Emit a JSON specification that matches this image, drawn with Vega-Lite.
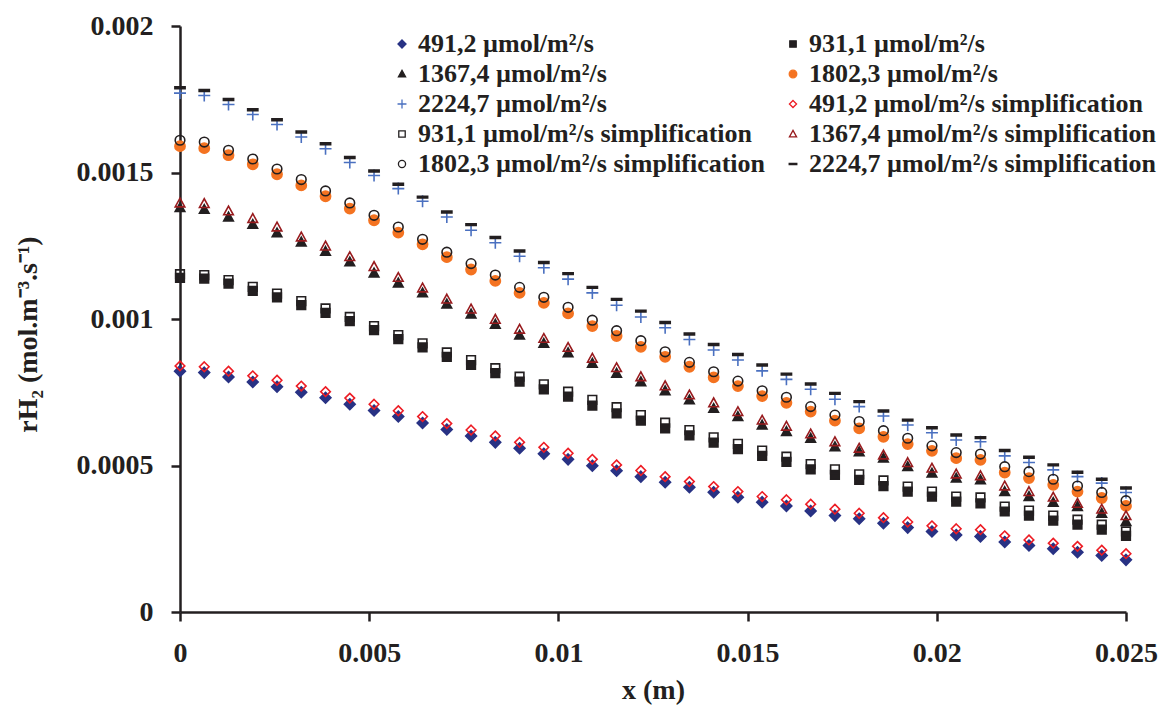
{
  "$schema": "https://vega.github.io/schema/vega-lite/v6.json",
  "width": 946,
  "height": 586,
  "autosize": {"type": "none"},
  "padding": {"left": 180, "top": 26, "right": 40, "bottom": 99},
  "background": "white",
  "config": {
    "view": {"stroke": null},
    "axis": {
      "domainColor": "#231F20", "domainWidth": 2.5, "tickColor": "#231F20", "tickWidth": 2.5, "tickSize": 9,
      "grid": false, "labelFont": "Liberation Serif", "labelFontWeight": "bold", "labelFontSize": 28,
      "labelColor": "#231F20", "titleFont": "Liberation Serif", "titleFontWeight": "bold", "titleFontSize": 28,
      "titleColor": "#231F20"
    },
    "legend": {
      "orient": "none", "legendX": 209, "legendY": 5, "columns": 2, "columnPadding": 14, "rowPadding": 4,
      "padding": 0, "labelFont": "Liberation Serif", "labelFontWeight": "bold", "labelFontSize": 26,
      "labelColor": "#231F20", "labelLimit": 600, "labelOffset": 3, "symbolSize": 80, "symbolStrokeWidth": 1.3
    }
  },
  "data": {"values": [
    {"x": 0, "a": 0.000822, "b": 0.001140, "c": 0.001380, "d": 0.001590, "e": 0.001771, "f": 0.000840, "g": 0.001153, "h": 0.001396, "k": 0.001610, "j": 0.001789},
    {"x": 0.000641, "a": 0.000817, "b": 0.001138, "c": 0.001374, "d": 0.001583, "e": 0.001763, "f": 0.000837, "g": 0.001150, "h": 0.001394, "k": 0.001604, "j": 0.001780},
    {"x": 0.001282, "a": 0.000802, "b": 0.001121, "c": 0.001348, "d": 0.001559, "e": 0.001732, "f": 0.000822, "g": 0.001133, "h": 0.001369, "k": 0.001576, "j": 0.001749},
    {"x": 0.001923, "a": 0.000785, "b": 0.001096, "c": 0.001323, "d": 0.001528, "e": 0.001698, "f": 0.000806, "g": 0.001110, "h": 0.001343, "k": 0.001546, "j": 0.001714},
    {"x": 0.002564, "a": 0.000769, "b": 0.001074, "c": 0.001294, "d": 0.001494, "e": 0.001664, "f": 0.000791, "g": 0.001087, "h": 0.001314, "k": 0.001512, "j": 0.001680},
    {"x": 0.003205, "a": 0.000750, "b": 0.001047, "c": 0.001263, "d": 0.001456, "e": 0.001621, "f": 0.000771, "g": 0.001061, "h": 0.001280, "k": 0.001476, "j": 0.001638},
    {"x": 0.003846, "a": 0.000731, "b": 0.001021, "c": 0.001231, "d": 0.001419, "e": 0.001581, "f": 0.000752, "g": 0.001036, "h": 0.001249, "k": 0.001437, "j": 0.001598},
    {"x": 0.004487, "a": 0.000709, "b": 0.000993, "c": 0.001195, "d": 0.001377, "e": 0.001534, "f": 0.000730, "g": 0.001007, "h": 0.001213, "k": 0.001396, "j": 0.001551},
    {"x": 0.005128, "a": 0.000688, "b": 0.000962, "c": 0.001157, "d": 0.001337, "e": 0.001490, "f": 0.000709, "g": 0.000976, "h": 0.001179, "k": 0.001354, "j": 0.001505},
    {"x": 0.005769, "a": 0.000667, "b": 0.000931, "c": 0.001123, "d": 0.001295, "e": 0.001445, "f": 0.000687, "g": 0.000945, "h": 0.001142, "k": 0.001314, "j": 0.001460},
    {"x": 0.006410, "a": 0.000645, "b": 0.000903, "c": 0.001089, "d": 0.001255, "e": 0.001402, "f": 0.000667, "g": 0.000917, "h": 0.001106, "k": 0.001272, "j": 0.001416},
    {"x": 0.007051, "a": 0.000623, "b": 0.000871, "c": 0.001051, "d": 0.001211, "e": 0.001348, "f": 0.000643, "g": 0.000886, "h": 0.001068, "k": 0.001228, "j": 0.001365},
    {"x": 0.007692, "a": 0.000601, "b": 0.000843, "c": 0.001017, "d": 0.001169, "e": 0.001303, "f": 0.000621, "g": 0.000860, "h": 0.001034, "k": 0.001189, "j": 0.001322},
    {"x": 0.008333, "a": 0.000579, "b": 0.000815, "c": 0.000982, "d": 0.001130, "e": 0.001260, "f": 0.000601, "g": 0.000832, "h": 0.000999, "k": 0.001150, "j": 0.001278},
    {"x": 0.008974, "a": 0.000559, "b": 0.000786, "c": 0.000945, "d": 0.001089, "e": 0.001214, "f": 0.000579, "g": 0.000803, "h": 0.000965, "k": 0.001108, "j": 0.001232},
    {"x": 0.009615, "a": 0.000540, "b": 0.000760, "c": 0.000917, "d": 0.001055, "e": 0.001175, "f": 0.000562, "g": 0.000777, "h": 0.000934, "k": 0.001074, "j": 0.001193},
    {"x": 0.010256, "a": 0.000521, "b": 0.000735, "c": 0.000885, "d": 0.001019, "e": 0.001136, "f": 0.000542, "g": 0.000752, "h": 0.000903, "k": 0.001040, "j": 0.001155},
    {"x": 0.010897, "a": 0.000499, "b": 0.000704, "c": 0.000849, "d": 0.000976, "e": 0.001089, "f": 0.000521, "g": 0.000724, "h": 0.000866, "k": 0.000996, "j": 0.001108},
    {"x": 0.011538, "a": 0.000482, "b": 0.000678, "c": 0.000815, "d": 0.000942, "e": 0.001047, "f": 0.000502, "g": 0.000699, "h": 0.000834, "k": 0.000960, "j": 0.001067},
    {"x": 0.012179, "a": 0.000462, "b": 0.000653, "c": 0.000786, "d": 0.000905, "e": 0.001007, "f": 0.000483, "g": 0.000672, "h": 0.000803, "k": 0.000926, "j": 0.001027},
    {"x": 0.012821, "a": 0.000443, "b": 0.000627, "c": 0.000755, "d": 0.000871, "e": 0.000970, "f": 0.000462, "g": 0.000646, "h": 0.000772, "k": 0.000888, "j": 0.000988},
    {"x": 0.013462, "a": 0.000426, "b": 0.000603, "c": 0.000724, "d": 0.000837, "e": 0.000930, "f": 0.000445, "g": 0.000621, "h": 0.000741, "k": 0.000852, "j": 0.000949},
    {"x": 0.014103, "a": 0.000409, "b": 0.000578, "c": 0.000695, "d": 0.000801, "e": 0.000894, "f": 0.000428, "g": 0.000596, "h": 0.000714, "k": 0.000820, "j": 0.000913},
    {"x": 0.014744, "a": 0.000392, "b": 0.000556, "c": 0.000667, "d": 0.000771, "e": 0.000860, "f": 0.000411, "g": 0.000574, "h": 0.000684, "k": 0.000788, "j": 0.000879},
    {"x": 0.015385, "a": 0.000375, "b": 0.000533, "c": 0.000638, "d": 0.000737, "e": 0.000823, "f": 0.000394, "g": 0.000551, "h": 0.000655, "k": 0.000755, "j": 0.000843},
    {"x": 0.016026, "a": 0.000362, "b": 0.000512, "c": 0.000616, "d": 0.000714, "e": 0.000794, "f": 0.000383, "g": 0.000530, "h": 0.000634, "k": 0.000733, "j": 0.000812},
    {"x": 0.016667, "a": 0.000345, "b": 0.000487, "c": 0.000593, "d": 0.000684, "e": 0.000760, "f": 0.000368, "g": 0.000505, "h": 0.000608, "k": 0.000701, "j": 0.000778},
    {"x": 0.017308, "a": 0.000329, "b": 0.000468, "c": 0.000564, "d": 0.000653, "e": 0.000726, "f": 0.000351, "g": 0.000487, "h": 0.000581, "k": 0.000672, "j": 0.000746},
    {"x": 0.017949, "a": 0.000318, "b": 0.000451, "c": 0.000547, "d": 0.000627, "e": 0.000701, "f": 0.000337, "g": 0.000470, "h": 0.000559, "k": 0.000650, "j": 0.000718},
    {"x": 0.018590, "a": 0.000303, "b": 0.000430, "c": 0.000525, "d": 0.000598, "e": 0.000669, "f": 0.000322, "g": 0.000449, "h": 0.000536, "k": 0.000619, "j": 0.000686},
    {"x": 0.019231, "a": 0.000288, "b": 0.000411, "c": 0.000496, "d": 0.000573, "e": 0.000638, "f": 0.000307, "g": 0.000428, "h": 0.000510, "k": 0.000593, "j": 0.000655},
    {"x": 0.019872, "a": 0.000275, "b": 0.000394, "c": 0.000474, "d": 0.000550, "e": 0.000612, "f": 0.000294, "g": 0.000411, "h": 0.000491, "k": 0.000567, "j": 0.000629},
    {"x": 0.020513, "a": 0.000263, "b": 0.000377, "c": 0.000457, "d": 0.000525, "e": 0.000587, "f": 0.000284, "g": 0.000394, "h": 0.000471, "k": 0.000544, "j": 0.000604},
    {"x": 0.021154, "a": 0.000258, "b": 0.000371, "c": 0.000451, "d": 0.000519, "e": 0.000581, "f": 0.000281, "g": 0.000391, "h": 0.000465, "k": 0.000539, "j": 0.000595},
    {"x": 0.021795, "a": 0.000239, "b": 0.000343, "c": 0.000411, "d": 0.000476, "e": 0.000533, "f": 0.000260, "g": 0.000360, "h": 0.000430, "k": 0.000496, "j": 0.000551},
    {"x": 0.022436, "a": 0.000227, "b": 0.000329, "c": 0.000394, "d": 0.000457, "e": 0.000510, "f": 0.000246, "g": 0.000346, "h": 0.000411, "k": 0.000479, "j": 0.000528},
    {"x": 0.023077, "a": 0.000216, "b": 0.000312, "c": 0.000374, "d": 0.000434, "e": 0.000485, "f": 0.000235, "g": 0.000329, "h": 0.000392, "k": 0.000453, "j": 0.000502},
    {"x": 0.023718, "a": 0.000204, "b": 0.000298, "c": 0.000360, "d": 0.000411, "e": 0.000462, "f": 0.000224, "g": 0.000315, "h": 0.000371, "k": 0.000430, "j": 0.000477},
    {"x": 0.024359, "a": 0.000193, "b": 0.000281, "c": 0.000337, "d": 0.000389, "e": 0.000440, "f": 0.000211, "g": 0.000298, "h": 0.000351, "k": 0.000408, "j": 0.000453},
    {"x": 0.025, "a": 0.000178, "b": 0.000260, "c": 0.000309, "d": 0.000362, "e": 0.000408, "f": 0.000199, "g": 0.000275, "h": 0.000329, "k": 0.000380, "j": 0.000423}
  ]},
  "transform": [
    {"fold": ["a", "b", "c", "d", "e", "f", "g", "h", "k", "j"], "as": ["s", "y"]},
    {"lookup": "s", "from": {"data": {"values": [
      {"s": "a", "name": "491,2 µmol/m²/s"},
      {"s": "b", "name": "931,1 µmol/m²/s"},
      {"s": "c", "name": "1367,4 µmol/m²/s"},
      {"s": "d", "name": "1802,3 µmol/m²/s"},
      {"s": "e", "name": "2224,7 µmol/m²/s"},
      {"s": "f", "name": "491,2 µmol/m²/s simplification"},
      {"s": "g", "name": "931,1 µmol/m²/s simplification"},
      {"s": "h", "name": "1367,4 µmol/m²/s simplification"},
      {"s": "k", "name": "1802,3 µmol/m²/s simplification"},
      {"s": "j", "name": "2224,7 µmol/m²/s simplification"}
    ]}, "key": "s", "fields": ["name"]}}
  ],
  "mark": {"type": "point", "size": 144, "strokeWidth": 1.6, "opacity": 1},
  "encoding": {
    "x": {
      "field": "x", "type": "quantitative",
      "scale": {"domain": [0, 0.025], "nice": false, "zero": false},
      "axis": {"values": [0, 0.005, 0.01, 0.015, 0.02, 0.025], "format": "~g", "labelPadding": 18, "labelFlush": false,
               "title": "x (m)", "titleX": 473, "titleY": 78, "titleBaseline": "middle", "titleAlign": "center"}
    },
    "y": {
      "field": "y", "type": "quantitative",
      "scale": {"domain": [0, 0.002], "nice": false},
      "axis": {"values": [0, 0.0005, 0.001, 0.0015, 0.002], "format": "~g", "labelPadding": 18, "labelFlush": false,
               "title": "rH₂ (mol.m⁻³.s⁻¹)", "titleAngle": -90, "titleX": -152, "titleY": 308,
               "titleBaseline": "middle", "titleAlign": "center"}
    },
    "shape": {
      "field": "name", "type": "nominal",
      "scale": {
        "domain": ["491,2 µmol/m²/s", "1367,4 µmol/m²/s", "2224,7 µmol/m²/s", "931,1 µmol/m²/s simplification", "1802,3 µmol/m²/s simplification",
                   "931,1 µmol/m²/s", "1802,3 µmol/m²/s", "491,2 µmol/m²/s simplification", "1367,4 µmol/m²/s simplification", "2224,7 µmol/m²/s simplification"],
        "range": ["M0,-0.9L0.9,0L0,0.9L-0.9,0Z",
                  "M0,-0.8L0.8,0.65L-0.8,0.65Z",
                  "M-1,0H1M0,-1V1",
                  "M-0.72,-0.72H0.72V0.72H-0.72Z",
                  "M-0.8,0A0.8,0.8,0,1,0,0.8,0A0.8,0.8,0,1,0,-0.8,0Z",
                  "M-0.72,-0.72H0.72V0.72H-0.72Z",
                  "M-0.85,0A0.85,0.85,0,1,0,0.85,0A0.85,0.85,0,1,0,-0.85,0Z",
                  "M0,-0.8L0.8,0L0,0.8L-0.8,0Z",
                  "M0,-0.8L0.8,0.65L-0.8,0.65Z",
                  "M-0.85,-0.15H0.85V0.15H-0.85Z"]
      },
      "legend": {"title": null}
    },
    "fill": {
      "field": "name", "type": "nominal",
      "scale": {
        "domain": ["491,2 µmol/m²/s", "1367,4 µmol/m²/s", "2224,7 µmol/m²/s", "931,1 µmol/m²/s simplification", "1802,3 µmol/m²/s simplification",
                   "931,1 µmol/m²/s", "1802,3 µmol/m²/s", "491,2 µmol/m²/s simplification", "1367,4 µmol/m²/s simplification", "2224,7 µmol/m²/s simplification"],
        "range": ["#283284", "#231F20", "transparent", "transparent", "transparent", "#231F20", "#F47321", "transparent", "transparent", "#231F20"]
      },
      "legend": {"title": null}
    },
    "stroke": {
      "field": "name", "type": "nominal",
      "scale": {
        "domain": ["491,2 µmol/m²/s", "1367,4 µmol/m²/s", "2224,7 µmol/m²/s", "931,1 µmol/m²/s simplification", "1802,3 µmol/m²/s simplification",
                   "931,1 µmol/m²/s", "1802,3 µmol/m²/s", "491,2 µmol/m²/s simplification", "1367,4 µmol/m²/s simplification", "2224,7 µmol/m²/s simplification"],
        "range": ["#283284", "#231F20", "#4A70C0", "#231F20", "#231F20", "#231F20", "#F47321", "#ED1C24", "#981B1E", "#231F20"]
      },
      "legend": {"title": null}
    }
  }
}
